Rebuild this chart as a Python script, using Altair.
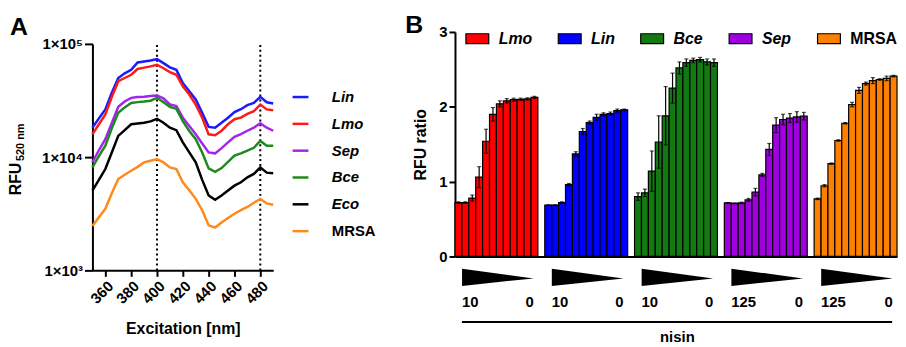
import altair as alt
import pandas as pd

FONT = "Liberation Sans"

# ---------------- Panel A data ----------------
wavelength = list(range(350, 491, 5))
rfu_lin = [18200, 22000, 26400, 37000, 50000, 55000, 59000, 68500, 70000, 71400, 73300, 67600, 62000, 59000, 45200,
           38200, 32300, 24600, 18500, 18200, 20100, 22300, 25000, 26500, 28800, 30100, 34100, 30500, 29800]
rfu_lmo = [15900, 19500, 23800, 34000, 46800, 50000, 53400, 60000, 61700, 63300, 65500, 61000, 56400, 53400, 42300,
           35700, 29100, 22300, 15900, 15600, 17100, 19500, 21600, 22300, 24100, 25500, 29100, 26400, 26000]
rfu_sep = [9000, 11500, 14400, 20000, 27800, 31000, 33400, 34000, 34200, 34600, 35000, 33000, 29200, 28200, 22300,
           18800, 15900, 13200, 11000, 10800, 12000, 13500, 15100, 16000, 17100, 18200, 19900, 18200, 17100]
rfu_bce = [8100, 10200, 12600, 18000, 24700, 27500, 30100, 30600, 31000, 31500, 33400, 30600, 27800, 26700, 20800,
           17000, 14400, 11000, 7960, 7430, 8000, 9100, 10300, 10800, 11400, 12100, 13900, 12600, 12600]
rfu_eco = [5070, 6300, 7850, 11000, 15400, 17300, 19500, 19800, 20100, 20700, 21800, 20100, 18200, 17300, 13500,
           11000, 8980, 6300, 4580, 4200, 4580, 5070, 5600, 6000, 6640, 7100, 8120, 7300, 7200]
rfu_mrsa = [2460, 2950, 3500, 4800, 6410, 7000, 7580, 8200, 8980, 9300, 9600, 8980, 8120, 7850, 6000,
            5100, 4280, 3400, 2500, 2390, 2650, 2900, 3160, 3400, 3630, 3950, 4280, 3900, 3800]
strains_a = ["Lin", "Lmo", "Sep", "Bce", "Eco", "MRSA"]
colors_a = ["#1a1aff", "#ff1a1a", "#a424ee", "#1e8a1e", "#000000", "#ff8a1a"]
xticks_a = [360, 380, 400, 420, 440, 460, 480]
yticks_a = [1000, 10000, 100000]
marker_wl = [400, 480]

# ---------------- Panel B data ----------------
strains_b = ["Lmo", "Lin", "Bce", "Sep", "MRSA"]
colors_b = ["#ff0000", "#0000ff", "#137a13", "#a000e0", "#ff8000"]
ratio_lmo = [0.72, 0.72, 0.78, 1.06, 1.54, 1.90, 2.04, 2.08, 2.095, 2.10, 2.105, 2.125]
err_lmo = [0.01, 0.01, 0.04, 0.14, 0.16, 0.09, 0.04, 0.03, 0.02, 0.015, 0.015, 0.015]
ratio_lin = [0.685, 0.685, 0.72, 0.96, 1.37, 1.67, 1.79, 1.86, 1.90, 1.91, 1.95, 1.96]
err_lin = [0.005, 0.005, 0.01, 0.015, 0.03, 0.04, 0.02, 0.04, 0.02, 0.02, 0.02, 0.01]
ratio_bce = [0.80, 0.85, 1.14, 1.53, 1.88, 2.25, 2.52, 2.59, 2.62, 2.63, 2.60, 2.59]
err_bce = [0.05, 0.05, 0.27, 0.35, 0.39, 0.20, 0.08, 0.05, 0.03, 0.03, 0.04, 0.05]
ratio_sep = [0.715, 0.71, 0.715, 0.755, 0.86, 1.09, 1.43, 1.755, 1.83, 1.85, 1.865, 1.875]
err_sep = [0.005, 0.005, 0.01, 0.02, 0.05, 0.02, 0.08, 0.10, 0.07, 0.06, 0.07, 0.05]
ratio_mrsa = [0.77, 0.945, 1.24, 1.55, 1.78, 2.03, 2.22, 2.31, 2.35, 2.365, 2.38, 2.41]
err_mrsa = [0.01, 0.015, 0.01, 0.01, 0.01, 0.03, 0.04, 0.02, 0.04, 0.01, 0.03, 0.01]
dose_high = ["10", "10", "10", "125", "125"]
dose_low = ["0", "0", "0", "0", "0"]
yticks_b = [0, 1, 2, 3]

# ---------------- Panel A ----------------
df_a = pd.DataFrame({"wl": wavelength, "Lin": rfu_lin, "Lmo": rfu_lmo, "Sep": rfu_sep,
                     "Bce": rfu_bce, "Eco": rfu_eco, "MRSA": rfu_mrsa}).melt(
    "wl", var_name="strain", value_name="rfu")

H_A = 240
x_scale_a = alt.Scale(domain=[350, 490], nice=False, zero=False)
x_axis_a = alt.Axis(values=xticks_a, labelAngle=-45, title="Excitation [nm]", labelOverlap=False,
                    labelFontSize=15, titleFontSize=16, tickSize=6, titlePadding=14)
y_scale_a = alt.Scale(type="log", domain=[1000, 100000], range=[H_A, 12])
y_axis_a = alt.Axis(values=yticks_a, title=None, labelFontSize=15, tickSize=8, labelPadding=2,
                    labelExpr="datum.value == 1000 ? '1×10³' : datum.value == 10000 ? '1×10⁴' : '1×10⁵'")

rules_a = alt.Chart(pd.DataFrame({"wl": marker_wl, "lo": [1000, 1000], "hi": [100000, 100000]})).mark_rule(
    color="black", strokeDash=[2, 3], strokeWidth=2).encode(
    x=alt.X("wl:Q", scale=x_scale_a, axis=x_axis_a),
    y=alt.Y("lo:Q", scale=y_scale_a, axis=y_axis_a), y2="hi:Q")

lines_a = alt.Chart(df_a).mark_line(strokeWidth=2.5).encode(
    x=alt.X("wl:Q", scale=x_scale_a, axis=x_axis_a),
    y=alt.Y("rfu:Q", scale=y_scale_a, axis=y_axis_a),
    stroke=alt.Stroke("strain:N", scale=alt.Scale(domain=strains_a, range=colors_a),
                      legend=alt.Legend(title=None, orient="none", legendX=200, legendY=56,
                                        symbolType="stroke", symbolSize=256, symbolStrokeWidth=2.5,
                                        labelFontSize=15, labelFontWeight="bold", labelFont=FONT,
                                        labelFontStyle={"expr": "datum.label == 'MRSA' ? 'normal' : 'italic'"},
                                        rowPadding=9, labelOffset=22, padding=0)),
)

ytitle_a = pd.DataFrame({"t": ["RFU", "520 nm"]})
rfu_main = alt.Chart(ytitle_a.iloc[[0]]).mark_text(
    angle=270, fontSize=16, fontWeight="bold", font=FONT, align="center", baseline="middle").encode(
    text="t:N", x=alt.value(-77), y=alt.value(148))
rfu_sub = alt.Chart(ytitle_a.iloc[[1]]).mark_text(
    angle=270, fontSize=11, fontWeight="bold", font=FONT, align="center", baseline="middle").encode(
    text="t:N", x=alt.value(-72), y=alt.value(111))
letter_a = alt.Chart(pd.DataFrame({"t": ["A"]})).mark_text(
    fontSize=25, fontWeight="bold", font=FONT, align="left", baseline="alphabetic").encode(
    text="t:N", x=alt.value(-83), y=alt.value(3))

panel_a = alt.layer(rules_a, lines_a, rfu_main, rfu_sub, letter_a).properties(width=182, height=H_A)

# ---------------- Panel B ----------------
rows = []
for g, (name, vals, errs) in enumerate(zip(strains_b,
                                           [ratio_lmo, ratio_lin, ratio_bce, ratio_sep, ratio_mrsa],
                                           [err_lmo, err_lin, err_bce, err_sep, err_mrsa])):
    for j, (v, e) in enumerate(zip(vals, errs)):
        s = g * 13 + j
        rows.append({"strain": name, "x0": s, "x1": s + 1, "xc": s + 0.5, "v": v, "base": 0.0,
                     "lo": v - e, "hi": v + e})
df_b = pd.DataFrame(rows)

x_b = alt.X("x0:Q", scale=alt.Scale(domain=[0, 64], nice=False, zero=False),
            axis=alt.Axis(title=None, labels=False, ticks=False, grid=False))
y_b = alt.Y("v:Q", scale=alt.Scale(domain=[0, 3], nice=False),
            axis=alt.Axis(values=yticks_b, title="RFU ratio", titleFontSize=16, labelFontSize=15,
                          tickSize=6, titlePadding=10, format="d"))

bars = alt.Chart(df_b).mark_rect(stroke="black", strokeWidth=1.2, opacity=1).encode(
    x=x_b, x2="x1:Q", y=y_b, y2="base:Q",
    fill=alt.Fill("strain:N", scale=alt.Scale(domain=strains_b, range=colors_b),
                  legend=alt.Legend(title=None, orient="none", legendX=10, legendY=-6,
                                    direction="horizontal",
                                    symbolType="M-1,-0.43L1,-0.43L1,0.43L-1,0.43Z", symbolSize=529,
                                    symbolStrokeColor="black", symbolStrokeWidth=1.2, symbolOpacity=1,
                                    labelFontSize=16, labelFontWeight="bold", labelFont=FONT,
                                    labelFontStyle={"expr": "datum.label == 'MRSA' ? 'normal' : 'italic'"},
                                    labelOffset=9, columnPadding=23, padding=0)),
)
err_rule = alt.Chart(df_b).mark_rule(color="black", strokeWidth=1.2).encode(
    x="xc:Q", y="lo:Q", y2="hi:Q")
cap_hi = alt.Chart(df_b).mark_tick(color="black", orient="horizontal", size=4, thickness=1.2).encode(
    x="xc:Q", y="hi:Q")
cap_lo = alt.Chart(df_b).mark_tick(color="black", orient="horizontal", size=4, thickness=1.2).encode(
    x="xc:Q", y="lo:Q")

groups = pd.DataFrame({"g": list(range(5)), "hi_lbl": dose_high, "lo_lbl": dose_low})
groups["tc"] = groups["g"] * 13 + 6.2
groups["ls"] = groups["g"] * 13 + 1.0
groups["rs"] = groups["g"] * 13 + 11.4

wedge = alt.Chart(groups).mark_point(
    shape="M-1,-0.24L1,0.03L-1,0.24Z", size=5184, filled=True, color="black", opacity=1,
    strokeWidth=0).encode(x="tc:Q", y=alt.value(247))
lbl_hi = alt.Chart(groups).mark_text(
    align="left", baseline="middle", fontSize=15, fontWeight="bold", font=FONT).encode(
    x="ls:Q", y=alt.value(272), text="hi_lbl:N")
lbl_lo = alt.Chart(groups).mark_text(
    align="right", baseline="middle", fontSize=15, fontWeight="bold", font=FONT).encode(
    x="rs:Q", y=alt.value(272), text="lo_lbl:N")
line_df = pd.DataFrame({"xs": [1.0], "xe": [63.3], "xm": [32.2], "t": ["nisin"]})
under = alt.Chart(line_df).mark_rule(color="black", strokeWidth=2).encode(
    x="xs:Q", x2="xe:Q", y=alt.value(292))
nisin = alt.Chart(line_df).mark_text(
    align="center", baseline="middle", fontSize=15, fontWeight="bold", font=FONT).encode(
    x="xm:Q", y=alt.value(307), text="t:N")
letter_b = alt.Chart(pd.DataFrame({"t": ["B"]})).mark_text(
    fontSize=25, fontWeight="bold", font=FONT, align="left", baseline="alphabetic").encode(
    text="t:N", x=alt.value(-50), y=alt.value(1))

panel_b = alt.layer(bars, err_rule, cap_hi, cap_lo, wedge, lbl_hi, lbl_lo, under, nisin, letter_b).properties(
    width=445, height=226)

chart = alt.hconcat(panel_a, panel_b, spacing=29).resolve_scale(
    x="independent", y="independent", stroke="independent", fill="independent").resolve_legend(
    stroke="independent", fill="independent").properties(
    padding={"left": 0, "top": 4, "right": 0, "bottom": 0}
).configure_view(stroke=None).configure_axis(
    labelFont=FONT, titleFont=FONT, labelFontWeight="bold", titleFontWeight="bold",
    labelColor="black", titleColor="black", domainColor="black", tickColor="black",
    domainWidth=2, tickWidth=2, grid=False
)

chart.save("out.html", embed_options={"renderer": "svg", "actions": False})
